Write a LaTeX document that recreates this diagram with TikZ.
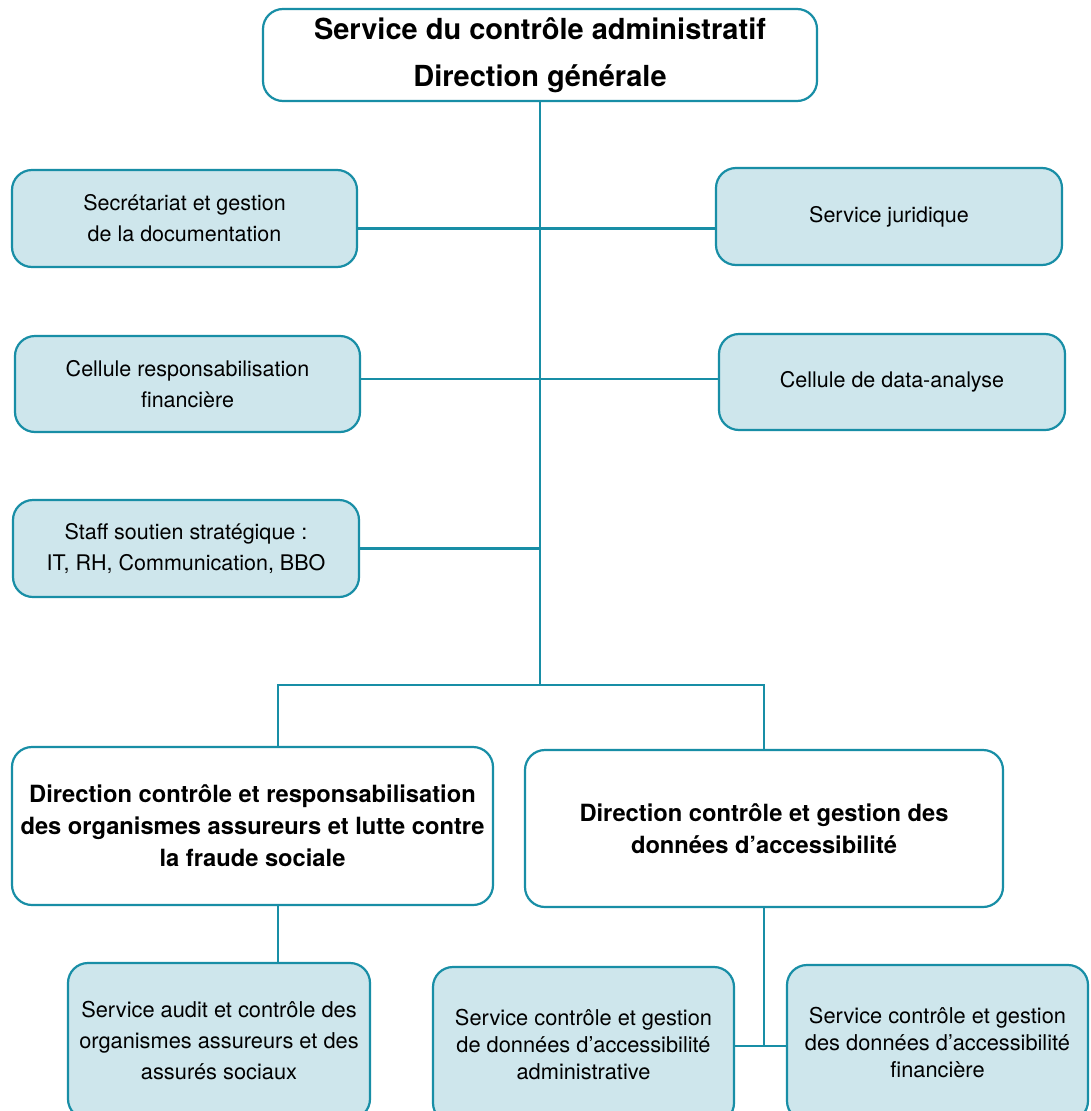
\documentclass[tikz,border=0pt]{standalone}
\usepackage{fontspec}
\setmainfont{TeX Gyre Heros}
\definecolor{teal1}{RGB}{24,142,166}
\definecolor{fillb}{RGB}{206,230,236}
\begin{document}
\begin{tikzpicture}[x=1pt,y=-1pt,
  box/.style={draw=teal1,line width=2.2pt,rounded corners=20pt,fill=fillb,align=center,
    font=\fontsize{21.5}{31}\selectfont,inner sep=0pt},
  wbox/.style={box,fill=white},
  conn/.style={draw=teal1,line width=2.2pt}]
\useasboundingbox (0,0) rectangle (1090,1111);
\clip (0,0) rectangle (1090,1111);
\fill[white] (0,0) rectangle (1090,1111);
% nodes
\node[wbox,minimum width=554pt,minimum height=92pt,font=\fontsize{29}{47}\selectfont\bfseries] (top) at (540,55) {Service du contrôle administratif\\Direction générale};
\node[box,minimum width=345pt,minimum height=97pt] (sec) at (184.5,218.5) {Secrétariat et gestion\\de la documentation};
\node[box,minimum width=346pt,minimum height=97pt] (jur) at (889,216.5) {Service juridique};
\node[box,minimum width=345pt,minimum height=96pt] (cel) at (187.5,384) {Cellule responsabilisation\\financière};
\node[box,minimum width=346pt,minimum height=96pt] (data) at (892,382) {Cellule de data-analyse};
\node[box,minimum width=346pt,minimum height=97pt] (staff) at (186,548.5) {Staff soutien stratégique :\\IT, RH, Communication, BBO};
\node[wbox,minimum width=481pt,minimum height=158pt,font=\fontsize{23.7}{32}\selectfont\bfseries] (dirL) at (252.5,826) {Direction contrôle et responsabilisation\\des organismes assureurs et lutte contre\\la fraude sociale};
\node[wbox,minimum width=478pt,minimum height=157pt,font=\fontsize{23.7}{32}\selectfont\bfseries] (dirR) at (764,828.5) {Direction contrôle et gestion des\\données d’accessibilité};
\node[box,minimum width=302pt,minimum height=156pt,font=\fontsize{21.8}{31}\selectfont] (audit) at (219,1041) {Service audit et contrôle des\\organismes assureurs et des\\assurés sociaux};
\node[box,minimum width=301pt,minimum height=156pt,font=\fontsize{21.8}{27}\selectfont] (adm) at (583.5,1045) {Service contrôle et gestion\\de données d’accessibilité\\administrative};
\node[box,minimum width=301pt,minimum height=156pt,font=\fontsize{21.8}{27}\selectfont] (fin) at (937.5,1043) {Service contrôle et gestion\\des données d’accessibilité\\financière};
% coordinates
\coordinate (j) at (top.south |- 0,685);
\coordinate (jl) at (278,685);
\coordinate (jr) at (dirR.north |- 0,685);
\coordinate (st) at (top.south |- staff.east);
\coordinate (bl) at (278,0);
\coordinate (br) at (dirR.south |- 0,1046);
% connectors
\draw[conn] (top.south) -- (j);
\draw[conn] ([yshift=-10pt]sec.east) -- ([yshift=-12pt]jur.west);
\draw[conn] ([yshift=5pt]cel.east) -- ([yshift=3pt]data.west);
\draw[conn] (staff.east) -- (st);
\draw[conn] (jl |- dirL.north) -- (jl) -- (jr) -- (dirR.north);
\draw[conn] (bl |- dirL.south) -- (bl |- audit.north);
\draw[conn] (dirR.south) -- (br);
\draw[conn] (adm.east |- br) -- (fin.west |- br);
\end{tikzpicture}
\end{document}
